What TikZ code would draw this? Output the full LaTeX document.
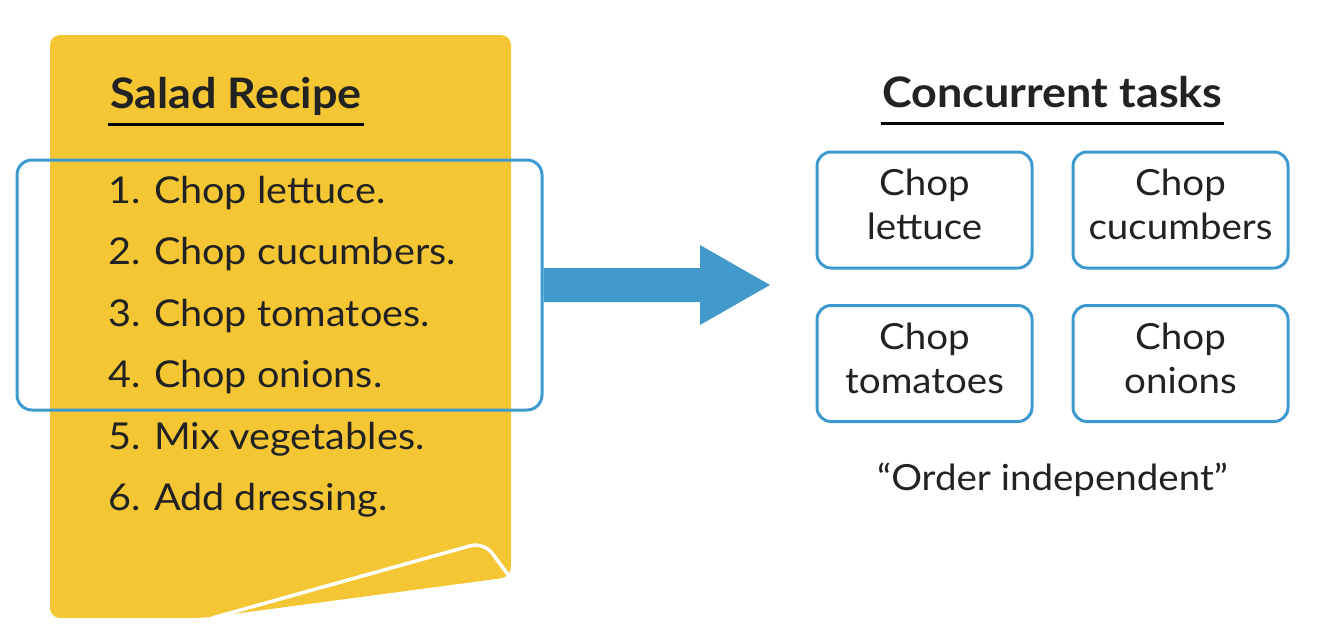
\documentclass[tikz,border=0pt]{standalone}
\usepackage{fontspec}
\setmainfont{Lato}[FakeStretch=1.07]
\definecolor{noteyellow}{HTML}{F4C634}
\definecolor{taskblue}{HTML}{3D9AD1}
\definecolor{arrowblue}{HTML}{4199CC}
\definecolor{ink}{HTML}{222222}
\begin{document}
\begin{tikzpicture}[x=1pt, y=-1pt, every node/.style={text=ink, inner sep=0pt},
	step text/.style={anchor=base west, font=\fontsize{37}{44}\selectfont},
	head text/.style={anchor=base, font=\fontsize{42}{50}\selectfont\bfseries},
	taskbox/.style={draw=taskblue, line width=3pt, rounded corners=14pt, fill=white,
		minimum width=215pt, minimum height=116pt, text depth=11pt, align=center, font=\fontsize{36}{44}\selectfont}]
			\useasboundingbox (0,0) rectangle (1336,641);

			\fill[noteyellow, rounded corners=10pt] (50,35) -- (511,35) -- (511,577) -- (203,618) -- (50,618) -- cycle;
			\draw[white, line width=3.5pt, rounded corners=14pt, line cap=round] (212,618) -- (484,542) -- (509,576);

			\node[head text, anchor=base west] (title) at (110,108) {Salad Recipe};
			\draw[line width=3pt] ([xshift=-2pt, yshift=-16pt]title.base west) -- ([xshift=2pt, yshift=-16pt]title.base east);

			\node[step text] (s1) at (108,203) {1. Chop lettuce.};
			\node[step text] (s2) at (108,264.5) {2. Chop cucumbers.};
			\node[step text] (s3) at (108,326) {3. Chop tomatoes.};
			\node[step text] (s4) at (108,387.5) {4. Chop onions.};
			\node[step text] (s5) at (108,449) {5. Mix vegetables.};
			\node[step text] (s6) at (108,510.5) {6. Add dressing.};

			\node[draw=taskblue, line width=3pt, rounded corners=15pt, minimum width=525pt, minimum height=250pt] (sel) at (279.5,285) {};

			\coordinate (tip) at (770,285);
			\fill[arrowblue] ([yshift=17pt]sel.east) -- (700,268) -- (700,245) -- (tip) -- (700,325) -- (700,302) -- ([yshift=-17pt]sel.east) -- cycle;

			\node[head text] (tasks) at (1052.5,107) {Concurrent tasks};
			\draw[line width=3pt] ([xshift=-1pt, yshift=-16pt]tasks.base west) -- ([xshift=1pt, yshift=-16pt]tasks.base east);

			\node[taskbox] (lettuce) at (924.5,210) {Chop\\lettuce};
			\node[taskbox] (cucumbers) at (1180.5,210) {Chop\\cucumbers};
			\node[taskbox] (tomatoes) at (924.5,363.5) {Chop\\tomatoes};
			\node[taskbox] (onions) at (1180.5,363.5) {Chop\\onions};

			\node[anchor=base, font=\fontsize{36}{44}\selectfont] (order) at (1052.5,490) {“Order independent”};
		\end{tikzpicture}
\end{document}
